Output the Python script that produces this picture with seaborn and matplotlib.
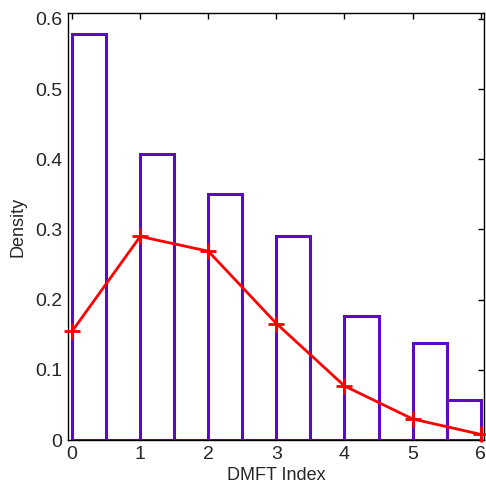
import numpy as np
import pandas as pd
import matplotlib
matplotlib.use("Agg")
import matplotlib.pyplot as plt
import seaborn as sns

# Histogram data (bin edges and empirical densities)
bin_edges = [0, 0.5, 1, 1.5, 2, 2.5, 3, 3.5, 4, 4.5, 5, 5.5, 6]
bin_centers = [0.25, 1.25, 2.25, 3.25, 4.25, 5.25, 5.75]
bin_heights = [0.578, 0.407, 0.351, 0.290, 0.176, 0.138, 0.057]

# Fitted distribution line
dmft_index = [0, 1, 2, 3, 4, 5, 6]
fitted_density = [0.155, 0.290, 0.269, 0.166, 0.077, 0.030, 0.008]

x_ticks = [0, 1, 2, 3, 4, 5, 6]
y_ticks = [0, 0.1, 0.2, 0.3, 0.4, 0.5, 0.6]
y_tick_labels = ["0", "0.1", "0.2", "0.3", "0.4", "0.5", "0.6"]

sns.set_style("white")
plt.rcParams['font.family'] = ['Liberation Sans', 'DejaVu Sans']

fig = plt.figure(figsize=(4.86, 4.93), dpi=100)
ax = fig.add_axes([0.140, 0.1075, 0.856, 0.8655])

hist_df = pd.DataFrame({"x": bin_centers, "w": bin_heights})
sns.histplot(data=hist_df, x="x", weights="w", bins=bin_edges, stat="count",
             element="bars", fill=False, color="#5a0bc6", linewidth=2.2, ax=ax)

line_df = pd.DataFrame({"x": dmft_index, "y": fitted_density})
sns.lineplot(data=line_df, x="x", y="y", color="#ff0000", linewidth=2,
             marker="+", markersize=11, markeredgewidth=2, markeredgecolor="#ff0000",
             ax=ax, zorder=5, clip_on=False)

ax.set_xlim(-0.06, 6.05)
ax.set_ylim(0, 0.608)
ax.set_xticks(x_ticks)
ax.set_xticklabels([str(t) for t in x_ticks])
ax.set_yticks(y_ticks)
ax.set_yticklabels(y_tick_labels)
ax.tick_params(axis="both", direction="in", length=4, width=1, color="black",
               labelsize=14, top=True, right=True, pad=4)
ax.set_xlabel("DMFT Index", fontsize=13, labelpad=3)
ax.set_ylabel("Density", fontsize=13, labelpad=6)
for s in ax.spines.values():
    s.set_visible(True)
    s.set_color("black")
    s.set_linewidth(1)

fig.savefig("out.png", dpi=100)
